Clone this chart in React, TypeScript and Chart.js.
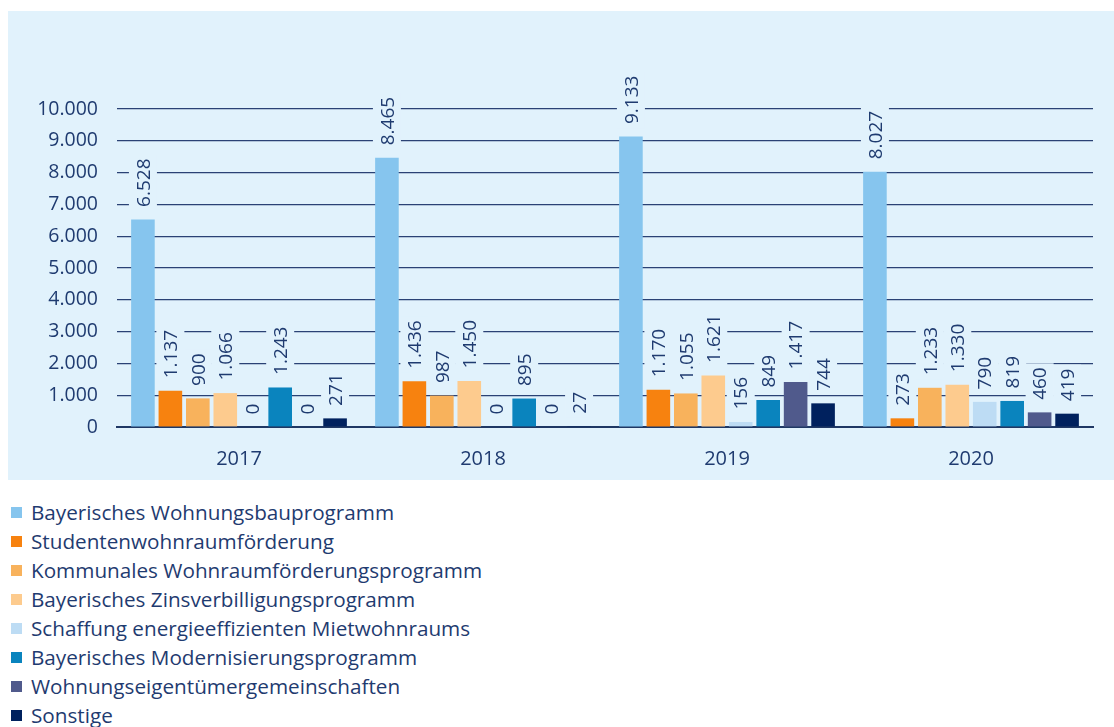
import React, { useEffect, useRef } from "react";
import { Chart, registerables } from "chart.js";

Chart.register(...registerables);

// ---- Data ----
const years = ["2017", "2018", "2019", "2020"];
const seriesNames = [
  "Bayerisches Wohnungsbauprogramm",
  "Studentenwohnraumförderung",
  "Kommunales Wohnraumförderungsprogramm",
  "Bayerisches Zinsverbilligungsprogramm",
  "Schaffung energieeffizienten Mietwohnraums",
  "Bayerisches Modernisierungsprogramm",
  "Wohnungseigentümergemeinschaften",
  "Sonstige",
];
const seriesColors = [
  "#86C5EE",
  "#F7820F",
  "#F8B25C",
  "#FDCB8E",
  "#BDDCF4",
  "#0A84BE",
  "#505A8C",
  "#00215E",
];
const wohnungsbau = [6528, 8465, 9133, 8027];
const studenten = [1137, 1436, 1170, 273];
const kommunal = [900, 987, 1055, 1233];
const zinsverbilligung = [1066, 1450, 1621, 1330];
const energieeffizient = [0, 0, 156, 790];
const modernisierung = [1243, 895, 849, 819];
const weg = [0, 0, 1417, 460];
const sonstige = [271, 27, 744, 419];
const seriesValues = [
  wohnungsbau,
  studenten,
  kommunal,
  zinsverbilligung,
  energieeffizient,
  modernisierung,
  weg,
  sonstige,
];
const yMin = 0;
const yMax = 10000;
const yStep = 1000;

// ---- Styles ----
const FONT = "'Open Sans', 'Noto Sans', sans-serif";
const TEXT = "#1F3B70";
const PANEL = "#E1F2FC";

const fmt = (v: number) =>
  String(Math.round(v)).replace(/\B(?=(\d{3})+(?!\d))/g, ".");

const LABEL_SIZE = 19;
const LABEL_GAP = 12.5;

const labelPlugin = {
  id: "barLabels",
  beforeDatasetsDraw(chart: any) {
    const ctx = chart.ctx;
    ctx.save();
    ctx.font = `${LABEL_SIZE}px ${FONT}`;
    chart.data.datasets.forEach((ds: any, di: number) => {
      const meta = chart.getDatasetMeta(di);
      meta.data.forEach((bar: any, i: number) => {
        const txt = fmt(ds.data[i]);
        const w = ctx.measureText(txt).width;
        const y0 = bar.y - LABEL_GAP;
        ctx.fillStyle = PANEL;
        ctx.fillRect(bar.x - 14, y0 - w - 4, 28, w + 8);
      });
    });
    ctx.restore();
  },
  afterDatasetsDraw(chart: any) {
    const ctx = chart.ctx;
    ctx.save();
    ctx.font = `${LABEL_SIZE}px ${FONT}`;
    ctx.fillStyle = TEXT;
    ctx.textAlign = "left";
    ctx.textBaseline = "alphabetic";
    const capH = LABEL_SIZE * 0.71;
    chart.data.datasets.forEach((ds: any, di: number) => {
      const meta = chart.getDatasetMeta(di);
      meta.data.forEach((bar: any, i: number) => {
        const txt = fmt(ds.data[i]);
        ctx.save();
        ctx.translate(bar.x, bar.y - LABEL_GAP);
        ctx.rotate(-Math.PI / 2);
        ctx.fillText(txt, 0, capH / 2);
        ctx.restore();
      });
    });
    ctx.restore();
  },
};

function BarChart() {
  const ref = useRef<HTMLCanvasElement | null>(null);
  useEffect(() => {
    if (!ref.current) return;
    const chart = new Chart(ref.current, {
      type: "bar",
      data: {
        labels: years,
        datasets: seriesNames.map((name, k) => ({
          label: name,
          data: seriesValues[k],
          backgroundColor: seriesColors[k],
          borderWidth: 0,
          categoryPercentage: 0.9,
          barPercentage: 0.86,
        })),
      },
      options: {
        animation: false,
        responsive: false,
        maintainAspectRatio: false,
        devicePixelRatio: 1,
        layout: { padding: { top: 98, right: 21, bottom: 0, left: 0 } },
        plugins: {
          legend: { display: false },
          tooltip: { enabled: false },
          title: { display: false },
        },
        scales: {
          x: {
            grid: { display: false },
            border: { display: true, color: "#1F3864", width: 2 },
            ticks: {
              color: TEXT,
              font: { family: FONT, size: 20 },
              padding: 12,
            },
            afterFit: (scale: any) => {
              scale.height = 53;
            },
          },
          y: {
            min: yMin,
            max: yMax,
            border: { display: false },
            grid: { color: "#2A4275", lineWidth: 1.2, drawTicks: false },
            ticks: {
              stepSize: yStep,
              color: TEXT,
              font: { family: FONT, size: 19.5 },
              padding: 19,
              callback: (v: any) => fmt(Number(v)),
            },
            afterFit: (scale: any) => {
              scale.width = 109;
            },
          },
        },
      },
      plugins: [labelPlugin],
    });
    return () => chart.destroy();
  }, []);
  return <canvas ref={ref} width={1106} height={469} style={{ display: "block" }} />;
}

export default function App() {
  useEffect(() => {
    document.body.style.margin = "0";
    document.body.style.overflow = "hidden";
  }, []);
  return (
    <div
      style={{
        position: "relative",
        width: 1114,
        height: 727,
        overflow: "hidden",
        background: "#FFFFFF",
        fontFamily: FONT,
      }}
    >
      <div
        style={{
          position: "absolute",
          left: 8,
          top: 11,
          width: 1106,
          height: 469,
          background: PANEL,
        }}
      >
        <BarChart />
      </div>
      <div style={{ position: "absolute", left: 0, top: 498 }}>
        {seriesNames.map((name, k) => (
          <div
            key={name}
            style={{
              position: "relative",
              height: 29,
              display: "flex",
              alignItems: "center",
            }}
          >
            <span
              style={{
                position: "absolute",
                left: 11,
                width: 11,
                height: 11,
                background: seriesColors[k],
              }}
            />
            <span
              style={{
                position: "absolute",
                left: 31,
                fontSize: 20.7,
                color: TEXT,
                whiteSpace: "nowrap",
                lineHeight: "29px",
              }}
            >
              {name}
            </span>
          </div>
        ))}
      </div>
    </div>
  );
}
